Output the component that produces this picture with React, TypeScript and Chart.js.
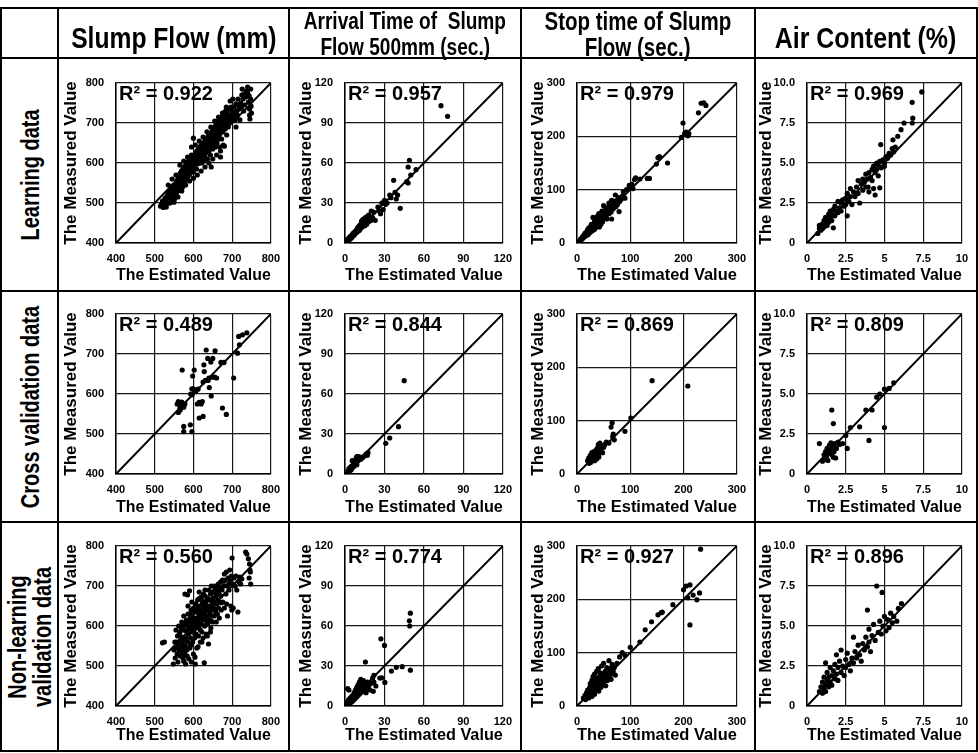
import React, { useEffect, useRef } from "react";
import { Chart, registerables } from "chart.js";
Chart.register(...registerables);

const FONT = "'Liberation Sans', Arial, sans-serif";

// ---------------- DATA ----------------
const columnHeaders = [["Slump Flow (mm)"], ["Arrival Time of  Slump", "Flow 500mm (sec.)"], ["Stop time of Slump", "Flow (sec.)"], ["Air Content (%)"]];
const rowHeaders = [["Learning data"], ["Cross validation data"], ["Non-learning", "validation data"]];
const axisMin = [400, 0, 0, 0];
const axisMax = [800, 120, 300, 10];
const axisStep = [100, 30, 100, 2.5];
const xAxisTitle = "The Estimated Value";
const yAxisTitle = "The Measured Value";
const r2Labels = [
  ["0.922", "0.957", "0.979", "0.969"],
  ["0.489", "0.844", "0.869", "0.809"],
  ["0.560", "0.774", "0.927", "0.896"],
];

const slumpLearning: [number, number][] = [
  [515,492],[518,498],[520,505],[522,489],[525,500],[527,512],[528,495],[530,503],[532,518],[533,508],[535,525],[536,500],[538,512],[540,530],[540,520],[542,505],[543,540],[545,515],[546,528],[548,535],[549,545],[550,520],[551,510],[552,540],[553,530],[555,548],[556,525],[557,555],[558,538],[559,545],[560,560],[560,530],
  [562,552],[563,570],[564,540],[565,558],[566,575],[567,548],[568,562],[569,580],[570,555],[571,568],[572,540],[573,585],[574,572],[575,560],[576,590],[577,552],[578,575],[579,565],[580,595],[580,580],[581,560],[582,588],[583,600],[584,575],[585,565],[586,592],[587,580],[588,605],[589,570],[590,598],[590,585],[591,612],[592,575],[593,590],[594,602],[595,583],[595,620],[596,595],[597,610],[598,588],[599,600],[600,662],[600,578],
  [601,605],[602,618],[603,592],[604,610],[605,625],[606,600],[607,615],[608,585],[609,630],[610,607],[611,620],[612,598],[613,635],[614,612],[615,625],[616,605],[617,640],[618,618],[619,630],[620,610],[620,645],[621,600],[622,628],[623,615],[624,650],[625,635],[626,620],[627,605],[628,642],[629,630],[630,655],[630,615],[631,640],[632,625],[633,660],[634,648],[635,632],[636,610],[637,665],[638,645],[639,655],[640,630],[640,670],[641,650],[642,638],[643,660],[644,620],[645,675],[645,648],[646,590],[647,662],[648,640],[649,680],[650,655],[650,635],
  [652,668],[653,645],[654,690],[655,675],[656,660],[657,640],[658,700],[659,682],[660,665],[661,650],[662,690],[663,675],[664,705],[665,660],[666,685],[667,670],[668,640],[669,695],[670,680],[670,615],[671,705],[672,688],[673,660],[674,715],[675,695],[676,678],[677,645],[678,700],[679,690],[680,720],[680,642],[681,705],[682,685],[683,730],[684,698],[685,710],[686,670],[687,725],[688,700],[690,715],[692,735],[694,705],[695,720],[697,740],[699,712],
  [700,730],[702,760],[703,715],[705,740],[707,725],[708,708],[710,748],[712,730],[714,720],[716,745],[718,735],[720,708],[722,750],[724,740],[726,785],[728,760],[730,772],[732,745],[735,765],[737,780],[740,775],[742,752],[744,768],[745,735],[746,710],[748,760],[749,742],
  [530,490],[535,545],[540,500],[545,560],[550,502],[555,570],[560,515],[565,595],[570,530],[575,605],[580,545],[585,615],[590,555],[595,640],[600,562],[605,645],[610,570],[615,655],[620,580],[625,665],[630,590],[635,678],[640,600],[645,690],[650,610],[655,705],[660,620],[665,715],[670,630],[675,725],[685,740],[690,690],[695,755],[705,710],[710,690],[715,760],[725,770],[730,730],[740,790],[745,720],[750,725],[748,785],
];
const arrivalLearning: [number, number][] = [
  [1,1],[1.5,2],[2,1.5],[2,3],[2.5,2],[3,3.5],[3,2.5],[3.5,4],[4,3],[4,5],[4.5,4],[5,5.5],[5,4],[5.5,6],[6,5],[6,7],[6.5,6],[7,8],[7,6],[7.5,7],[8,9],[8,7.5],[8.5,8],[9,10],[9,8],[9.5,11],[10,9],[10,12],[10.5,10],[11,13],[11,9.5],[11.5,12],[12,14],[12,11],[12.5,16],[13,12],[13,17],[13.5,14],[14,13],[14,18],[14.5,15],[15,16],[15,13],[15.5,19],[16,17],[16.5,14],[17,20],[17,18],[18,16],[18,21],[19,19],[20,24],[20,17],[21,19],[22,23],[23,17],[25,27],[26,24],[27,22],[28,30],[29,25],[30,32],[31,29],[32,30],[34,36],[35,34],[37,47],[38,38],[39,33],[40,36],[42,26],[47,46],[48,45],[48,57],[49,62],[50,51],[54,55],[73,103],[78,95],
];
const stopLearning: [number, number][] = [
  [5,4],[7,8],[8,6],[10,11],[10,8],[12,14],[12,10],[14,12],[15,18],[15,13],[16,15],[17,20],[18,14],[18,17],[19,22],[20,18],[20,25],[21,16],[22,21],[22,28],[23,19],[24,24],[25,30],[25,20],[26,27],[27,22],[27,35],[28,26],[29,31],[30,28],[30,48],[30,24],[31,35],[32,30],[33,40],[33,26],[34,33],[35,38],[35,29],[36,44],[37,35],[38,32],[38,50],[39,40],[40,36],[40,45],[41,55],[42,38],[42,30],[43,48],[44,42],[45,52],[45,35],[46,46],[47,60],[48,44],[48,40],[49,55],[50,50],[50,70],[51,46],[52,58],[53,52],[54,64],[55,48],[55,56],[56,45],[57,62],[58,58],[59,68],[60,55],[60,75],[62,62],[63,70],[64,58],[65,80],[65,45],[66,68],[67,74],[68,64],[70,78],[70,70],[72,90],[73,68],[75,80],[76,72],[78,85],[79,59],[80,78],[83,82],[85,88],[87,96],[90,84],[93,100],[98,108],[100,104],[103,110],[105,102],[108,119],[110,122],[118,120],[132,121],[136,121],[152,160],[155,162],[149,148],[170,150],[196,198],[199,225],[202,205],[205,208],[208,201],[210,205],[228,244],[233,262],[238,263],[242,258],
];
const airLearning: [number, number][] = [
  [0.7,0.6],[0.8,0.9],[0.8,1.1],[0.9,0.8],[1.0,1.2],[1.0,0.9],[1.1,1.4],[1.1,1.0],[1.2,1.3],[1.2,1.6],[1.3,1.1],[1.3,1.5],[1.4,1.8],[1.4,1.3],[1.5,1.6],[1.5,2.0],[1.6,1.4],[1.6,1.8],[1.7,2.1],[1.7,0.95],[1.8,1.7],[1.8,2.3],[1.9,2.0],[2.0,2.6],[2.0,1.9],[2.1,2.2],[2.2,2.5],[2.2,2.0],[2.3,2.7],[2.4,2.3],[2.5,2.8],[2.5,2.4],[2.6,1.7],[2.6,3.1],[2.7,2.6],[2.8,3.4],[2.8,2.9],[2.9,2.4],[3.0,3.2],[3.1,2.9],[3.2,3.5],[3.3,3.1],[3.3,3.9],[3.4,2.5],[3.5,3.7],[3.6,3.3],[3.6,4.0],[3.7,3.8],[3.8,4.3],[3.8,3.5],[3.9,4.0],[3.95,3.5],[4.0,4.4],[4.0,3.2],[4.1,4.1],[4.2,4.6],[4.2,3.9],[4.3,4.8],[4.3,3.4],[4.4,4.4],[4.4,3.0],[4.5,5.0],[4.5,4.6],[4.6,4.2],[4.6,4.9],[4.7,5.1],[4.7,3.45],[4.76,6.15],[4.8,4.7],[4.9,5.2],[5.0,5.0],[5.0,4.8],[5.1,5.4],[5.2,5.3],[5.3,5.6],[5.4,5.5],[5.5,5.9],[5.55,6.45],[5.6,5.7],[5.7,6.0],[5.86,6.67],[6.07,7.08],[6.27,7.5],[6.8,7.5],[6.83,7.8],[6.79,8.79],[7.41,9.44],
];
const slumpCross: [number, number][] = [
  [633,710],[656,708],[637,689],[650,689],[671,679],[679,679],[627,673],[717,744],[727,748],[738,753],[719,723],[714,702],[704,640],[571,660],[602,660],[598,645],[648,642],[655,642],[628,656],[631,634],[638,634],[641,616],[646,595],[596,613],[600,613],[606,606],[593,600],[615,579],[620,575],[610,575],[623,581],[561,581],[565,565],[561,554],[575,567],[615,540],[625,544],[675,565],[685,549],[575,519],[575,506],[592,523],[596,506],
  [558,575],[568,570],[570,580],[578,575],[597,598],[603,607],[640,640],[645,680],[660,640],[625,630],[612,612],[566,560],
];
const arrivalCross: [number, number][] = [
  [2,2],[3,4],[3.5,2.5],[4,5],[4.5,3],[5,6],[5,4],[5.5,10],[6,5],[6.5,7],[7,6],[7.5,8],[8,9],[8.5,12],[9,7],[9,13],[9.5,11],[10,10],[10.5,13],[11,12],[12,11],[13,12],[14,13],[16,15],[17,14],[17.5,16],[31,23],[34,27],[40.7,35.5],[45,70],
];
const stopCross: [number, number][] = [
  [20,25],[22,30],[23,20],[24,28],[25,35],[26,22],[27,32],[28,40],[29,26],[30,30],[31,35],[32,42],[33,25],[34,38],[35,30],[36,45],[37,28],[38,48],[39,36],[40,55],[41,32],[42,40],[43,58],[44,45],[46,52],[48,40],[50,50],[52,55],[55,60],[60,58],[64,88],[66,96],[67,70],[70,64],[68,75],[90,80],[101,105],[141,175],[208,165],
];
const airCross: [number, number][] = [
  [0.8,1.9],[1.0,0.8],[1.1,1.2],[1.15,0.9],[1.2,1.4],[1.25,1.1],[1.3,1.6],[1.35,0.85],[1.4,1.3],[1.45,1.8],[1.5,1.5],[1.55,1.95],[1.6,1.2],[1.6,4.0],[1.65,1.7],[1.7,3.15],[1.7,1.05],[1.75,1.4],[1.8,1.9],[1.85,1.0],[1.9,1.6],[2.0,2.0],[2.1,1.85],[2.3,1.9],[2.5,2.4],[2.6,1.6],[2.8,2.9],[3.4,2.95],[3.8,4.0],[4.0,2.1],[4.2,4.0],[4.5,4.8],[4.7,5.0],[5.0,2.9],[5.0,5.3],[5.3,5.35],[5.6,5.7],
];
const slumpNonLearning: [number, number][] = [
  [520,558],[525,560],[548,505],[550,540],[552,560],[553,520],[555,590],[556,545],[558,530],[559,575],[560,510],[561,555],[562,600],[563,540],[565,585],[566,525],[567,565],[568,548],[569,595],[570,535],[570,610],[571,572],[572,555],[573,520],[574,590],[575,545],[575,625],[576,565],[577,530],[578,605],[578,680],[579,550],[580,588],[580,505],[581,570],[582,615],[583,540],[584,600],[585,678],[585,560],[586,630],[587,580],[588,518],[589,610],[590,688],[590,595],
  [591,545],[592,620],[593,570],[594,640],[595,600],[595,510],[596,585],[597,625],[598,560],[599,610],[600,645],[600,530],[601,590],[602,615],[603,570],[604,635],[605,600],[605,505],[606,655],[607,580],[608,620],[609,545],[610,640],[610,595],[611,665],[612,610],[613,575],[614,630],[615,600],[615,685],[616,650],[617,620],[618,560],[619,640],[620,605],[620,672],[621,630],[622,585],[623,655],[624,615],[625,640],[625,570],[626,680],[627,625],[628,508],[628,650],[629,600],[630,635],[630,690],[631,615],[632,660],[633,580],[634,645],[635,625],[636,670],[637,605],[638,650],[639,555],[640,640],[640,690],
  [641,615],[642,665],[643,630],[644,680],[645,595],[645,650],[646,700],[647,625],[648,660],[649,640],[650,685],[650,610],[651,670],[652,645],[653,700],[654,625],[655,660],[656,690],[657,640],[658,675],[659,610],[660,655],[660,700],[661,685],[662,630],[663,665],[664,705],[665,645],[666,680],[667,620],[668,695],[669,660],[670,710],[671,675],[672,640],[674,690],[675,715],[676,660],[678,700],[680,730],[680,645],[682,715],[684,680],[685,735],[687,700],[688,625],[690,720],[692,690],[694,740],[695,712],[697,650],[698,725],[699,640],
  [700,770],[702,705],[703,645],[705,720],[708,700],[710,725],[712,690],[715,635],[718,710],[720,722],[722,705],[725,718],[735,785],[738,780],[742,768],[745,755],[746,740],[747,735],[748,705],[744,720],
  [557,560],[563,578],[572,600],[579,538],[586,612],[593,552],[598,632],[604,580],[611,645],[618,590],[624,662],[632,603],[638,668],[646,612],[652,685],[658,632],[664,690],[672,658],[679,712],[686,655],[692,705],[604,522],[612,548],[622,560],[636,575],[644,585],[586,650],[596,660],[614,668],[630,675],[584,525],[575,512],
];
const arrivalNonLearning: [number, number][] = [
  [1,2],[1.5,1],[2,3],[2,1.5],[2.5,4],[3,2],[3,5],[3.5,3],[4,6],[4,2.5],[4.5,4],[5,7],[5,3],[5.5,5],[6,8],[6,4],[6.5,6],[7,10],[7,5],[7.5,7],[8,12],[8,6],[8.5,9],[9,14],[9,7],[9.5,11],[10,8],[10,16],[10.5,12],[11,9],[11,18],[11.5,14],[12,10],[12,20],[12.5,15],[13,12],[13.5,17],[14,11],[14,19],[15,14],[15.5,33],[15.5,16],[16,10],[16.5,13],[17,18],[18,15],[19,12],[20,17],[21,21],[21.5,11],[22,23],[22,18],[23.5,15],[26.5,21],[27.3,50.4],[28,21.2],[30,45.4],[30.3,17.7],[35.3,26.2],[39,29],[43.5,29.5],[48.9,63.9],[49.2,60],[49.7,69.6],[49.7,26.9],[2,13],[3,12],
];
const stopNonLearning: [number, number][] = [
  [12,15],[15,20],[16,12],[18,25],[19,18],[20,30],[21,22],[22,15],[23,28],[24,35],[25,20],[25,42],[26,26],[27,32],[28,18],[28,48],[29,38],[30,25],[30,55],[31,30],[32,44],[33,22],[33,60],[34,36],[35,50],[35,28],[36,40],[37,65],[38,32],[38,52],[39,45],[40,38],[40,70],[41,28],[42,55],[43,42],[44,62],[45,35],[45,48],[46,75],[47,55],[48,40],[49,60],[50,45],[50,80],[52,52],[53,65],[54,38],[55,58],[56,72],[57,48],[58,62],[60,55],[60,85],[62,70],[64,50],[65,60],[66,78],[68,65],[70,72],[72,58],[75,80],[80,92],[85,100],[90,95],[100,110],[118,120],[128,143],[140,158],[152,171],[158,175],[160,176],[180,190],[200,218],[205,225],[208,203],[212,152],[212,227],[218,208],[225,199],[230,212],[232,294],
];
const airNonLearning: [number, number][] = [
  [0.8,0.9],[0.9,1.2],[1.0,0.8],[1.0,1.5],[1.1,1.1],[1.1,1.8],[1.2,1.3],[1.2,0.9],[1.3,1.6],[1.3,2.1],[1.4,1.2],[1.4,1.8],[1.5,1.5],[1.5,2.4],[1.6,1.9],[1.6,1.3],[1.7,2.2],[1.8,1.7],[1.8,2.6],[1.9,2.0],[2.0,1.6],[2.0,2.4],[2.1,2.8],[2.2,2.1],[2.3,2.5],[2.4,1.9],[2.5,2.9],[2.5,2.4],[2.6,3.3],[2.7,2.6],[2.8,2.2],[2.9,3.0],[3.0,2.7],[3.1,3.4],[3.2,3.0],[3.3,3.8],[3.4,3.2],[3.5,2.8],[3.6,3.9],[3.7,3.5],[3.8,4.3],[3.9,3.7],[4.0,4.8],[4.0,4.0],[4.1,3.4],[4.2,4.4],[4.3,5.1],[4.4,4.1],[4.5,7.5],[4.6,4.6],[4.7,5.3],[4.8,4.5],[4.85,7.1],[4.9,5.0],[5.0,5.6],[5.1,4.7],[5.2,5.4],[5.3,4.9],[5.4,5.8],[5.5,5.2],[5.6,5.6],[5.8,5.3],[5.9,6.1],[6.1,6.4],[3.9,6.0],[2.2,3.5],[1.9,3.2],[1.2,2.7],[3.0,4.3],
];

const seriesGrid: [number, number][][][] = [
  [slumpLearning, arrivalLearning, stopLearning, airLearning],
  [slumpCross, arrivalCross, stopCross, airCross],
  [slumpNonLearning, arrivalNonLearning, stopNonLearning, airNonLearning],
];

// ---------------- LAYOUT ----------------
const COLS = [1, 58, 289, 521, 755, 977];
const ROWS = [8, 58, 291, 522, 751];
const PLOT_X = [[116, 276], [345, 506], [577, 737], [807, 968]];
const PLOT_Y = [[83, 243], [314, 474], [546, 706]];
const X_TITLE_PAD = [5, 4, 5];
const Y_TITLE_PAD = [3, 7, 7, 1];

function fmtTick(col: number, axis: "x" | "y", v: number): string {
  if (col === 3) {
    if (v === 0) return "0";
    return axis === "y" ? v.toFixed(1) : String(v);
  }
  return String(v);
}

function Plot({ r, c }: { r: number; c: number }) {
  const ref = useRef<HTMLCanvasElement>(null);
  const cellL = COLS[c + 1], cellR = COLS[c + 2], cellT = ROWS[r + 1], cellB = ROWS[r + 2];
  const w = cellR - cellL, h = cellB - cellT;
  useEffect(() => {
    const [pl, pr] = PLOT_X[c];
    const [pt, pb] = PLOT_Y[r];
    const pts = seriesGrid[r][c].map(([x, y]) => ({ x, y }));
    const label = "R\u00B2 = " + r2Labels[r][c];
    const r2Plugin = {
      id: "r2label",
      afterDatasetsDraw(chart: any) {
        const { ctx, chartArea } = chart;
        ctx.save();
        ctx.font = `bold 20px ${FONT}`;
        ctx.fillStyle = "#000";
        ctx.textBaseline = "alphabetic";
        ctx.textAlign = "left";
        ctx.fillText(label, chartArea.left + 3, chartArea.top + 17);
        ctx.restore();
      },
    };
    const tickFont = { family: FONT, weight: "bold" as const, size: 11 };
    const titleFont = { family: FONT, weight: "bold" as const, size: 17 };
    const chart = new Chart(ref.current as HTMLCanvasElement, {
      type: "scatter",
      data: {
        datasets: [
          { data: pts, pointRadius: 2.6, pointBackgroundColor: "#000", pointBorderWidth: 0, showLine: false },
          {
            data: [{ x: axisMin[c], y: axisMin[c] }, { x: axisMax[c], y: axisMax[c] }],
            showLine: true, borderColor: "#000", borderWidth: 2, pointRadius: 0,
          },
        ],
      },
      options: {
        animation: false,
        responsive: false,
        events: [],
        layout: { padding: { top: pt - cellT, right: cellR - pr, bottom: 0, left: 0 } },
        plugins: { legend: { display: false }, tooltip: { enabled: false } },
        scales: {
          x: {
            type: "linear",
            min: axisMin[c], max: axisMax[c],
            ticks: { stepSize: axisStep[c], color: "#000", font: tickFont, padding: 9, maxRotation: 0, callback: (v: any) => fmtTick(c, "x", Number(v)) },
            grid: { color: "#1a1a1a", lineWidth: 1.2, drawTicks: false },
            border: { color: "#000", width: 1.5 },
            title: { display: true, text: xAxisTitle, color: "#000", font: titleFont, padding: { top: 0, bottom: X_TITLE_PAD[r] } },
            afterFit: (s: any) => { s.height = cellB - pb; },
          },
          y: {
            type: "linear",
            min: axisMin[c], max: axisMax[c],
            ticks: { stepSize: axisStep[c], color: "#000", font: tickFont, padding: 12, callback: (v: any) => fmtTick(c, "y", Number(v)) },
            grid: { color: "#1a1a1a", lineWidth: 1.2, drawTicks: false },
            border: { color: "#000", width: 1.5 },
            title: { display: true, text: yAxisTitle, color: "#000", font: titleFont, padding: { top: Y_TITLE_PAD[c], bottom: 0 } },
            afterFit: (s: any) => { s.width = pl - cellL; },
          },
        },
      },
      plugins: [r2Plugin],
    } as any);
    return () => chart.destroy();
  }, [r, c]);
  return (
    <canvas ref={ref} width={w} height={h}
      style={{ position: "absolute", left: cellL, top: cellT, width: w, height: h }} />
  );
}

const LINE = 2;

export default function App() {
  const lines: React.ReactNode[] = [];
  COLS.forEach((x, i) =>
    lines.push(<div key={"v" + i} style={{ position: "absolute", left: x - LINE / 2, top: ROWS[0] - LINE / 2, width: LINE, height: ROWS[ROWS.length - 1] - ROWS[0] + LINE, background: "#000" }} />)
  );
  ROWS.forEach((y, i) =>
    lines.push(<div key={"h" + i} style={{ position: "absolute", left: COLS[0] - LINE / 2, top: y - LINE / 2, width: COLS[COLS.length - 1] - COLS[0] + LINE, height: LINE, background: "#000" }} />)
  );
  const headerSizes = [29, 23, 25, 29];
  const headerScale = [0.85, 0.83, 0.82, 0.86];
  const headerLH = [30, 26, 26, 30];
  const headerShift = [5, 1, 1, 5];
  return (
    <div style={{ position: "absolute", left: 0, top: 0, width: 978, height: 753, background: "#fff", overflow: "hidden" }}>
      {[0, 1, 2].map((r) => [0, 1, 2, 3].map((c) => <Plot key={r + "-" + c} r={r} c={c} />))}
      {columnHeaders.map((lns, c) => (
        <div key={"ch" + c} style={{
          position: "absolute", left: COLS[c + 1], top: ROWS[0] + headerShift[c], width: COLS[c + 2] - COLS[c + 1], height: ROWS[1] - ROWS[0],
          display: "flex", flexDirection: "column", alignItems: "center", justifyContent: "center",
          fontFamily: FONT, fontWeight: "bold", fontSize: headerSizes[c], lineHeight: headerLH[c] + "px", color: "#000", whiteSpace: "pre",
        }}>
          {lns.map((t, i) => <div key={i} style={{ transform: `scaleX(${headerScale[c]})` }}>{t}</div>)}
        </div>
      ))}
      {rowHeaders.map((lns, r) => {
        const cx = (COLS[0] + COLS[1]) / 2;
        const cy = (ROWS[r + 1] + ROWS[r + 2]) / 2;
        return (
          <div key={"rh" + r} style={{
            position: "absolute", left: cx, top: cy, transform: "translate(-50%, -50%) rotate(-90deg) scaleX(0.8)",
            fontFamily: FONT, fontWeight: "bold", fontSize: 25, lineHeight: "25px", color: "#000", whiteSpace: "pre", textAlign: "center",
          }}>
            {lns.map((t, i) => <div key={i}>{t}</div>)}
          </div>
        );
      })}
      {lines}
    </div>
  );
}
